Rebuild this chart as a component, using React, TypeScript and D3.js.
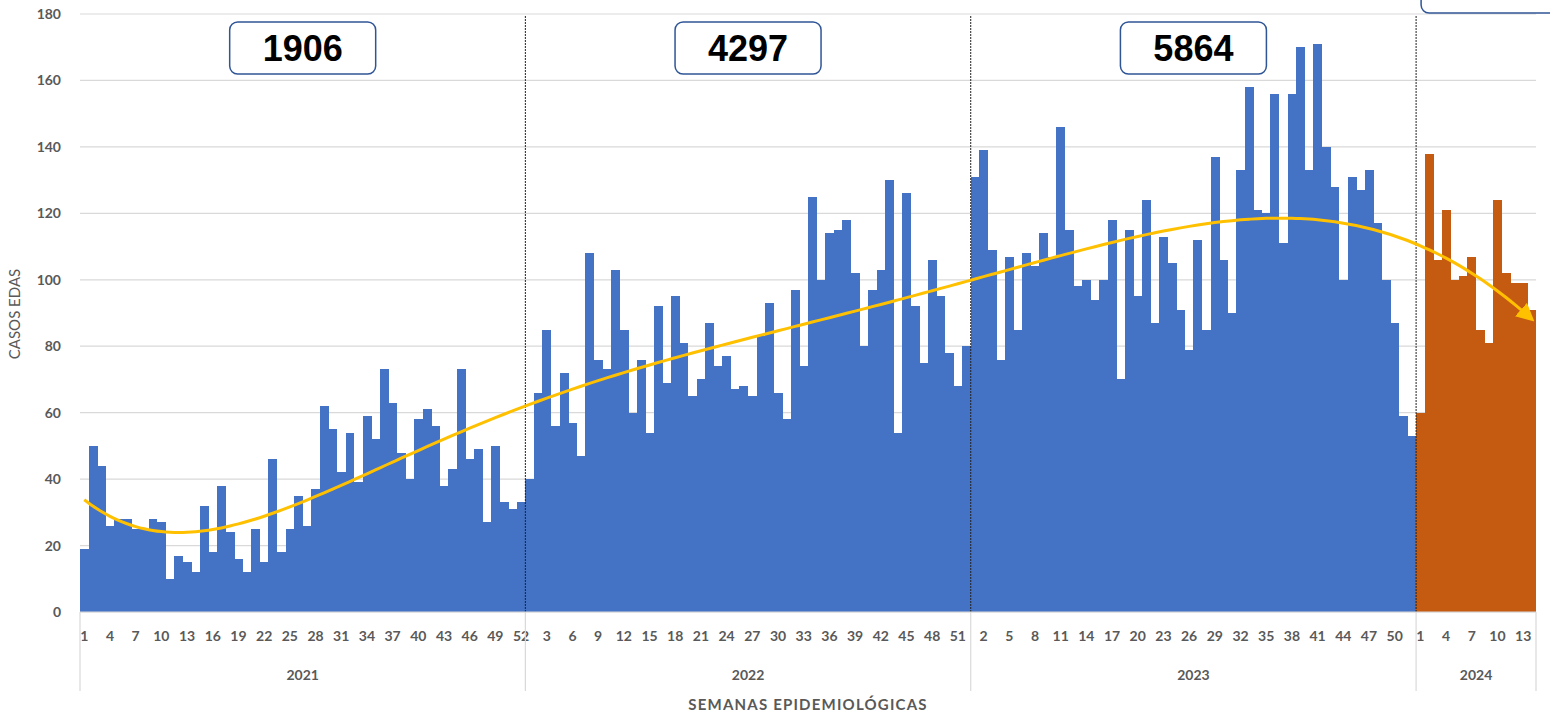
import React from 'react';
import * as d3 from 'd3';

// weekly cases (EDAS) per epidemiological week
const years = ['2021', '2022', '2023', '2024'];
const totals = [1906, 4297, 5864];

const cases2021 = [19, 50, 44, 26, 28, 28, 25, 25, 28, 27, 10, 17, 15, 12, 32, 18, 38,
  24, 16, 12, 25, 15, 46, 18, 25, 35, 26, 37, 62, 55, 42, 54, 39, 59, 52,
  73, 63, 48, 40, 58, 61, 56, 38, 43, 73, 46, 49, 27, 50, 33, 31, 33];
const cases2022 = [40, 66, 85, 56, 72, 57, 47, 108, 76, 73, 103, 85, 60, 76, 54, 92, 69,
  95, 81, 65, 70, 87, 74, 77, 67, 68, 65, 83, 93, 66, 58, 97, 74, 125,
  100, 114, 115, 118, 102, 80, 97, 103, 130, 54, 126, 92, 75, 106, 95, 78, 68, 80];
const cases2023 = [131, 139, 109, 76, 107, 85, 108, 104, 114, 107, 146, 115, 98, 100, 94, 100,
  118, 70, 115, 95, 124, 87, 113, 105, 91, 79, 112, 85, 137, 106, 90, 133, 158,
  121, 120, 156, 111, 156, 170, 133, 171, 140, 128, 100, 131, 127, 133, 117, 100, 87, 59, 53];
const cases2024 = [60, 138, 106, 121, 100, 101, 107, 85, 81, 124, 102, 99, 99, 91];

const series = [cases2021, cases2022, cases2023, cases2024];
const yTicks = [0, 20, 40, 60, 80, 100, 120, 140, 160, 180];

type Bar = { key: string; yearIdx: number; week: number; value: number; idx: number };
const bars: Bar[] = [];
series.forEach((arr, yi) => arr.forEach((v, wi) => {
  bars.push({ key: `${years[yi]}-${wi + 1}`, yearIdx: yi, week: wi + 1, value: v, idx: bars.length });
}));

// least squares polynomial trend (like the spreadsheet trendline)
function polyfit(xs: number[], ys: number[], order: number) {
  const n = order + 1;
  const A: number[][] = Array.from({ length: n }, () => new Array(n + 1).fill(0));
  xs.forEach((x, k) => {
    for (let i = 0; i < n; i++) {
      for (let j = 0; j < n; j++) A[i][j] += Math.pow(x, i + j);
      A[i][n] += Math.pow(x, i) * ys[k];
    }
  });
  for (let c = 0; c < n; c++) {
    let p = c;
    for (let r = c + 1; r < n; r++) if (Math.abs(A[r][c]) > Math.abs(A[p][c])) p = r;
    [A[c], A[p]] = [A[p], A[c]];
    for (let r = 0; r < n; r++) {
      if (r === c) continue;
      const f = A[r][c] / A[c][c];
      for (let j = c; j <= n; j++) A[r][j] -= f * A[c][j];
    }
  }
  const coef = A.map((row, i) => row[n] / row[i]);
  return (x: number) => coef.reduce((s, c, i) => s + c * Math.pow(x, i), 0);
}

const W = 1550;
const H = 715;
const left = 80;
const right = 1536;
const top = 14;
const bottom = 612;
const grey = '#595959';
const font = 'Lato, "Open Sans", sans-serif';

const App = () => {
  const x = d3.scaleBand<number>().domain(bars.map(d => d.idx)).range([left, right]).padding(0);
  const y = d3.scaleLinear().domain([0, 180]).range([bottom, top]);
  const bw = x.bandwidth();

  const n = bars.length;
  const norm = (i: number) => (i - (n - 1) / 2) / ((n - 1) / 2);
  const trend = polyfit(bars.map(d => norm(d.idx)), bars.map(d => d.value), 6);
  const trendPts: [number, number][] = bars.map(d => [x(d.idx)! + bw / 2, y(trend(norm(d.idx)))]);
  const line = d3.line().curve(d3.curveCatmullRom)(trendPts) || '';

  // boundaries between years
  const starts: number[] = [];
  let acc = 0;
  series.forEach(arr => { starts.push(acc); acc += arr.length; });
  const edge = (i: number) => (i >= n ? right : x(i)!);

  return (
    <svg width={W} height={H} style={{ position: 'absolute', left: 0, top: 0, background: '#fff' }}>
      <defs>
        <marker id="arrow" viewBox="0 0 10 10" refX="8" refY="5" markerWidth="6" markerHeight="6" orient="auto">
          <path d="M0,0 L10,5 L0,10 z" fill="#FFC000" />
        </marker>
      </defs>

      {yTicks.map(t => (
        <g key={t}>
          <line x1={left} x2={right} y1={y(t)} y2={y(t)} stroke="#D9D9D9" strokeWidth={1.2} />
          <text x={61} y={y(t) + 5} textAnchor="end" fontFamily={font} fontWeight={700} fontSize={14} fill={grey}>{t}</text>
        </g>
      ))}

      <text transform="translate(20,314) rotate(-90)" textAnchor="middle" fontFamily={font} fontSize={15} fill={grey}>CASOS EDAS</text>

      {bars.map(d => (
        <rect key={d.key} x={x(d.idx)} y={y(d.value)} width={bw + 0.4} height={bottom - y(d.value)}
          fill={d.yearIdx === 3 ? '#C55A11' : '#4472C4'} shapeRendering="crispEdges" />
      ))}

      {starts.slice(1).map(s => (
        <line key={s} x1={edge(s)} x2={edge(s)} y1={top + 2} y2={bottom} stroke="#222" strokeWidth={1} strokeDasharray="2,1" />
      ))}

      <path d={line} fill="none" stroke="#FFC000" strokeWidth={3} markerEnd="url(#arrow)" />

      {totals.map((t, i) => {
        const cx = (edge(starts[i]) + edge(starts[i] + series[i].length)) / 2;
        return (
          <g key={t}>
            <rect x={cx - 73} y={22} width={146} height={52} rx={8} fill="#fff" stroke="#2F5597" strokeWidth={1.5} />
            <text x={cx} y={61} textAnchor="middle" fontFamily="Liberation Sans, Arial, sans-serif" fontWeight={700} fontSize={36} fill="#000">{t}</text>
          </g>
        );
      })}
      <rect x={edge(starts[3]) + 5} y={-30} width={200} height={43} rx={8} fill="#fff" stroke="#2F5597" strokeWidth={1.5} />

      <line x1={left} x2={right} y1={bottom} y2={bottom} stroke="#D9D9D9" strokeWidth={1.2} />
      {bars.filter(d => d.idx % 3 === 0).map(d => (
        <text key={d.key} x={x(d.idx)! + bw / 2} y={641} textAnchor="middle" fontFamily={font} fontWeight={700} fontSize={14} fill={grey}>{d.week}</text>
      ))}
      {[...starts, n].map(s => (
        <line key={`sep${s}`} x1={edge(s)} x2={edge(s)} y1={bottom} y2={691} stroke="#D9D9D9" strokeWidth={1.2} />
      ))}
      {years.map((yr, i) => (
        <text key={yr} x={(edge(starts[i]) + edge(starts[i] + series[i].length)) / 2} y={680} textAnchor="middle"
          fontFamily={font} fontWeight={700} fontSize={14} fill={grey}>{yr}</text>
      ))}
      <text x={808} y={710} textAnchor="middle" fontFamily={font} fontWeight={700} fontSize={15} fill={grey} letterSpacing={1.2}>SEMANAS  EPIDEMIOLÓGICAS</text>
    </svg>
  );
};

export default App;
